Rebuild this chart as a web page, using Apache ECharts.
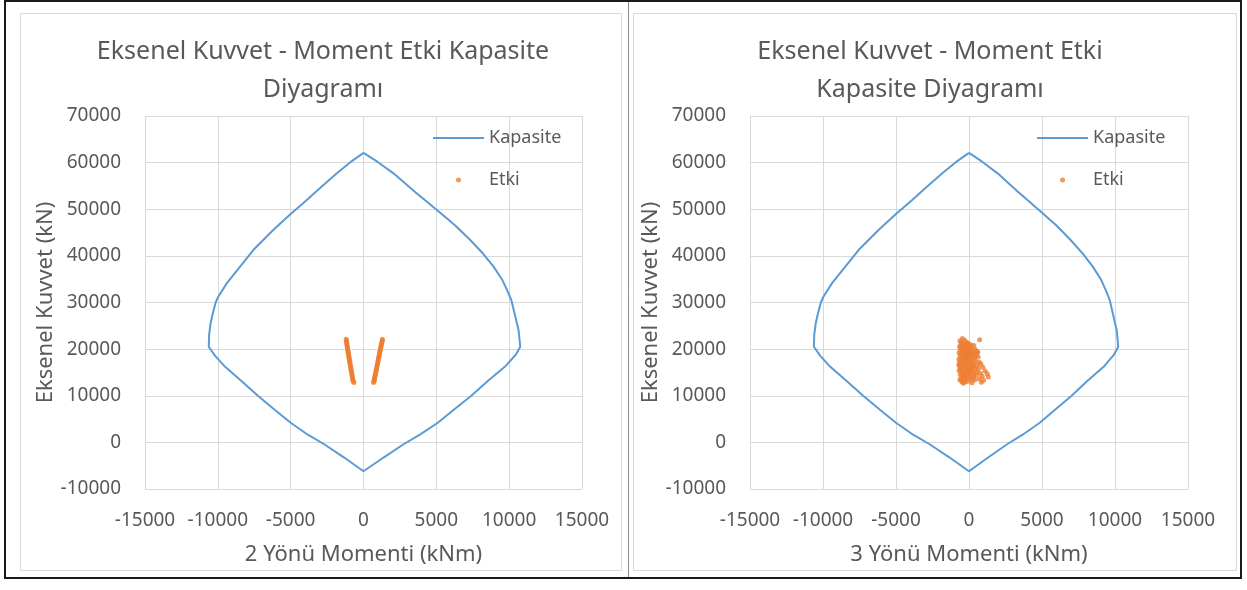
<!DOCTYPE html>
<html>
<head>
<meta charset="utf-8">
<script src="https://cdn.jsdelivr.net/npm/echarts@6/dist/echarts.min.js"></script>
<style>
  html, body { margin: 0; padding: 0; background: #ffffff; }
  #chart { width: 1247px; height: 590px; }
</style>
</head>
<body>
<div id="chart"></div>
<script>
// Interaction (capacity) curve, 2-direction moment: [M2 (kNm), N (kN)], closed loop
const kapasite2 = [
  [0, 62100], [-900, 60100], [-1830, 57700], [-3000, 54500], [-3890, 52000],
  [-5000, 49000], [-6180, 45600], [-7550, 41300], [-8470, 37700], [-9380, 34150],
  [-9960, 31300], [-10150, 30000], [-10350, 27600], [-10500, 25500], [-10600, 23000],
  [-10620, 20500], [-10200, 18600], [-9500, 16200], [-8400, 13200], [-7250, 10000],
  [-6100, 7000], [-5000, 4200], [-3850, 1700], [-2700, -400], [-1350, -3200],
  [0, -6200], [1400, -3200], [2750, -400], [3900, 1700], [5100, 4200],
  [6200, 7000], [7400, 10000], [8550, 13200], [9700, 16200], [10450, 18800],
  [10760, 20500], [10650, 24000], [10420, 27000], [10150, 30500], [9850, 32700],
  [9500, 35000], [8930, 37700], [8200, 40500], [7330, 43400], [6300, 46500],
  [5040, 49860], [3500, 53800], [2060, 57700], [950, 60200], [0, 62100]
];

// Interaction (capacity) curve, 3-direction moment
const kapasite3 = [
  [0, 62100], [-900, 60100], [-1830, 57700], [-3000, 54500], [-3890, 52000],
  [-5000, 49000], [-6180, 45600], [-7550, 41300], [-8470, 37700], [-9380, 34150],
  [-9960, 31300], [-10150, 30000], [-10350, 27600], [-10500, 25500], [-10600, 23000],
  [-10620, 20500], [-10200, 18600], [-9500, 16200], [-8400, 13200], [-7250, 10000],
  [-6100, 7000], [-5000, 4200], [-3850, 1700], [-2700, -400], [-1350, -3200],
  [0, -6200], [1330, -3200], [2610, -400], [3700, 1700], [4850, 4200],
  [5890, 7000], [7030, 10000], [8120, 13200], [9220, 16200], [9930, 18800],
  [10220, 20500], [10120, 24000], [9900, 27000], [9640, 30500], [9360, 32700],
  [9030, 35000], [8480, 37700], [7790, 40500], [6960, 43400], [5990, 46500],
  [4790, 49860], [3330, 53800], [1960, 57700], [900, 60200], [0, 62100]
];

// Design load pairs, 2-direction moment: [M2 (kNm), N (kN)]
const etki2 = [
  [-1190, 22100], [-1170, 21800], [-1165, 21450], [-1140, 21200], [-1135, 20850],
  [-1110, 20500], [-1100, 20200], [-1085, 19850], [-1060, 19550], [-1050, 19200],
  [-1025, 18900], [-1015, 18550], [-990, 18250], [-980, 17900], [-955, 17600],
  [-945, 17250], [-920, 16950], [-910, 16600], [-885, 16300], [-875, 15950],
  [-850, 15650], [-840, 15300], [-815, 15000], [-805, 14650], [-780, 14350],
  [-770, 14000], [-745, 13700], [-730, 13400], [-705, 13100], [-660, 12850],
  [1300, 22100], [1290, 21800], [1260, 21450], [1245, 21200], [1215, 20850],
  [1200, 20500], [1170, 20200], [1160, 19850], [1130, 19550], [1115, 19200],
  [1090, 18900], [1075, 18550], [1045, 18250], [1035, 17900], [1005, 17600],
  [990, 17250], [965, 16950], [950, 16600], [920, 16300], [910, 15950],
  [880, 15650], [865, 15300], [840, 15000], [825, 14650], [795, 14350],
  [785, 14000], [755, 13700], [740, 13400], [715, 13100], [695, 12850]
];

// Design load pairs, 3-direction moment: [M3 (kNm), N (kN)]
const etki3 = [
  [-620, 21800], [-450, 22300], [-300, 21900], [-150, 21500], [-520, 21300],
  [-380, 21000], [-200, 20900], [-60, 21200], [100, 21000], [-650, 20500],
  [-480, 20600], [-320, 20400], [-180, 20300], [0, 20500], [180, 20400],
  [330, 20800], [-600, 19900], [-440, 19800], [-260, 19700], [-100, 19900],
  [80, 19800], [240, 19600], [420, 20000], [560, 19500], [-680, 19200],
  [-520, 19100], [-350, 19000], [-180, 19200], [-20, 19000], [150, 19100],
  [320, 18900], [480, 18700], [-620, 18500], [-460, 18400], [-300, 18300],
  [-140, 18500], [40, 18300], [200, 18400], [380, 18200], [620, 18300],
  [-700, 17800], [-540, 17700], [-380, 17600], [-220, 17800], [-60, 17600],
  [120, 17700], [290, 17500], [460, 17400], [700, 17200], [-660, 17000],
  [-500, 16900], [-330, 16800], [-170, 17000], [0, 16900], [170, 16800],
  [350, 16600], [560, 16500], [820, 16800], [-620, 16200], [-450, 16100],
  [-280, 16000], [-120, 16200], [60, 16000], [230, 15900], [420, 15700],
  [640, 15800], [950, 16100], [-680, 15400], [-500, 15300], [-340, 15200],
  [-170, 15400], [0, 15100], [170, 15200], [360, 15000], [560, 15100],
  [780, 14800], [1100, 15300], [-600, 14600], [-420, 14500], [-250, 14400],
  [-80, 14600], [100, 14300], [290, 14200], [500, 14400], [900, 14200],
  [1250, 14700], [-560, 13800], [-380, 13700], [-200, 13600], [-30, 13800],
  [150, 13500], [400, 13400], [700, 13600], [1000, 13300], [-480, 13000],
  [-280, 12900], [-80, 13100], [200, 12800], [850, 12900], [1320, 14000],
  [600, 19300], [730, 22000], [-560, 21000], [-250, 20650], [-420, 19450],
  [-90, 18850], [-560, 17350], [-250, 16550], [-580, 15800], [-90, 15700],
  [-450, 14950], [-350, 14100], [-620, 13400], [-150, 18050], [260, 16300],
  [-700, 16600], [-400, 12700], [60, 14900], [330, 13900], [-60, 20200]
];

const titles = ['Eksenel Kuvvet - Moment Etki Kapasite\nDiyagramı', 'Eksenel Kuvvet - Moment Etki\nKapasite Diyagramı'];
const xNames = ['2 Yönü Momenti (kNm)', '3 Yönü Momenti (kNm)'];
const yName = 'Eksenel Kuvvet (kN)';
const seriesNames = ['Kapasite', 'Etki'];

const FONT = '"Noto Sans", sans-serif';
const TEXT = '#595959';
const GRID = '#d9d9d9';
const BLUE = '#5b9bd5';
const ORANGE = '#ed7d31';

const grids = [
  { left: 145, top: 116, width: 437, height: 373 },
  { left: 750, top: 116, width: 438, height: 373 }
];

function xAxis(i) {
  return {
    type: 'value', gridIndex: i, min: -15000, max: 15000, interval: 5000,
    name: xNames[i], nameLocation: 'middle', nameGap: 55,
    nameTextStyle: { color: TEXT, fontFamily: FONT, fontSize: 22 },
    axisLine: { show: false }, axisTick: { show: false },
    axisLabel: { color: TEXT, fontFamily: FONT, fontSize: 19, margin: 22, formatter: v => String(v) },
    splitLine: { show: true, lineStyle: { color: GRID, width: 1 } }
  };
}
function yAxis(i) {
  return {
    type: 'value', gridIndex: i, min: -10000, max: 70000, interval: 10000,
    name: yName, nameLocation: 'middle', nameGap: 84,
    nameTextStyle: { color: TEXT, fontFamily: FONT, fontSize: 22 },
    axisLine: { show: false }, axisTick: { show: false },
    axisLabel: { color: TEXT, fontFamily: FONT, fontSize: 19, margin: 24, formatter: v => String(v) },
    splitLine: { show: true, lineStyle: { color: GRID, width: 1 } }
  };
}

const titleCenters = [323, 930];
const legendLefts = [433, 1037];

const option = {
  animation: false,
  backgroundColor: '#ffffff',
  title: titles.map((t, i) => ({
    text: t, left: titleCenters[i], top: 33, textAlign: 'center', padding: 0,
    textStyle: { color: TEXT, fontFamily: FONT, fontSize: 25, fontWeight: 'normal', lineHeight: 38 }
  })),
  legend: legendLefts.map(l => ({
    data: [
      { name: seriesNames[0], icon: 'path://M0,0 L51,0 L51,2 L0,2 Z' },
      { name: seriesNames[1], icon: 'circle' }
    ],
    orient: 'vertical', left: l, top: 127, padding: 0,
    itemWidth: 51, itemHeight: 5, itemGap: 20,
    textStyle: { color: TEXT, fontFamily: FONT, fontSize: 18, lineHeight: 22 }
  })),
  grid: grids,
  xAxis: [xAxis(0), xAxis(1)],
  yAxis: [yAxis(0), yAxis(1)],
  series: [
    { name: seriesNames[0], type: 'line', xAxisIndex: 0, yAxisIndex: 0, data: kapasite2,
      showSymbol: false, symbol: 'none', smooth: false, lineStyle: { color: BLUE, width: 2 }, itemStyle: { color: BLUE } },
    { name: seriesNames[1], type: 'scatter', xAxisIndex: 0, yAxisIndex: 0, data: etki2,
      symbol: 'circle', symbolSize: 5, itemStyle: { color: ORANGE } },
    { name: seriesNames[0], type: 'line', xAxisIndex: 1, yAxisIndex: 1, data: kapasite3,
      showSymbol: false, symbol: 'none', smooth: false, lineStyle: { color: BLUE, width: 2 }, itemStyle: { color: BLUE } },
    { name: seriesNames[1], type: 'scatter', xAxisIndex: 1, yAxisIndex: 1, data: etki3,
      symbol: 'circle', symbolSize: 5, itemStyle: { color: ORANGE } }
  ],
  graphic: [
    // outer frame
    { type: 'rect', shape: { x: 5, y: 1, width: 1236, height: 577 }, style: { fill: 'none', stroke: '#1a1a1a', lineWidth: 2 }, z: 10 },
    // chart area borders
    { type: 'rect', shape: { x: 20.5, y: 13.5, width: 601, height: 557 }, style: { fill: 'none', stroke: GRID, lineWidth: 1 }, z: 10 },
    { type: 'rect', shape: { x: 633.5, y: 13.5, width: 603, height: 557 }, style: { fill: 'none', stroke: GRID, lineWidth: 1 }, z: 10 },
    // divider between the two charts
    { type: 'line', shape: { x1: 628.5, y1: 2, x2: 628.5, y2: 577 }, style: { stroke: '#8c8c8c', lineWidth: 1 }, z: 10 }
  ]
};

echarts.init(document.getElementById('chart'), null, { renderer: 'canvas' }).setOption(option);
</script>
</body>
</html>
